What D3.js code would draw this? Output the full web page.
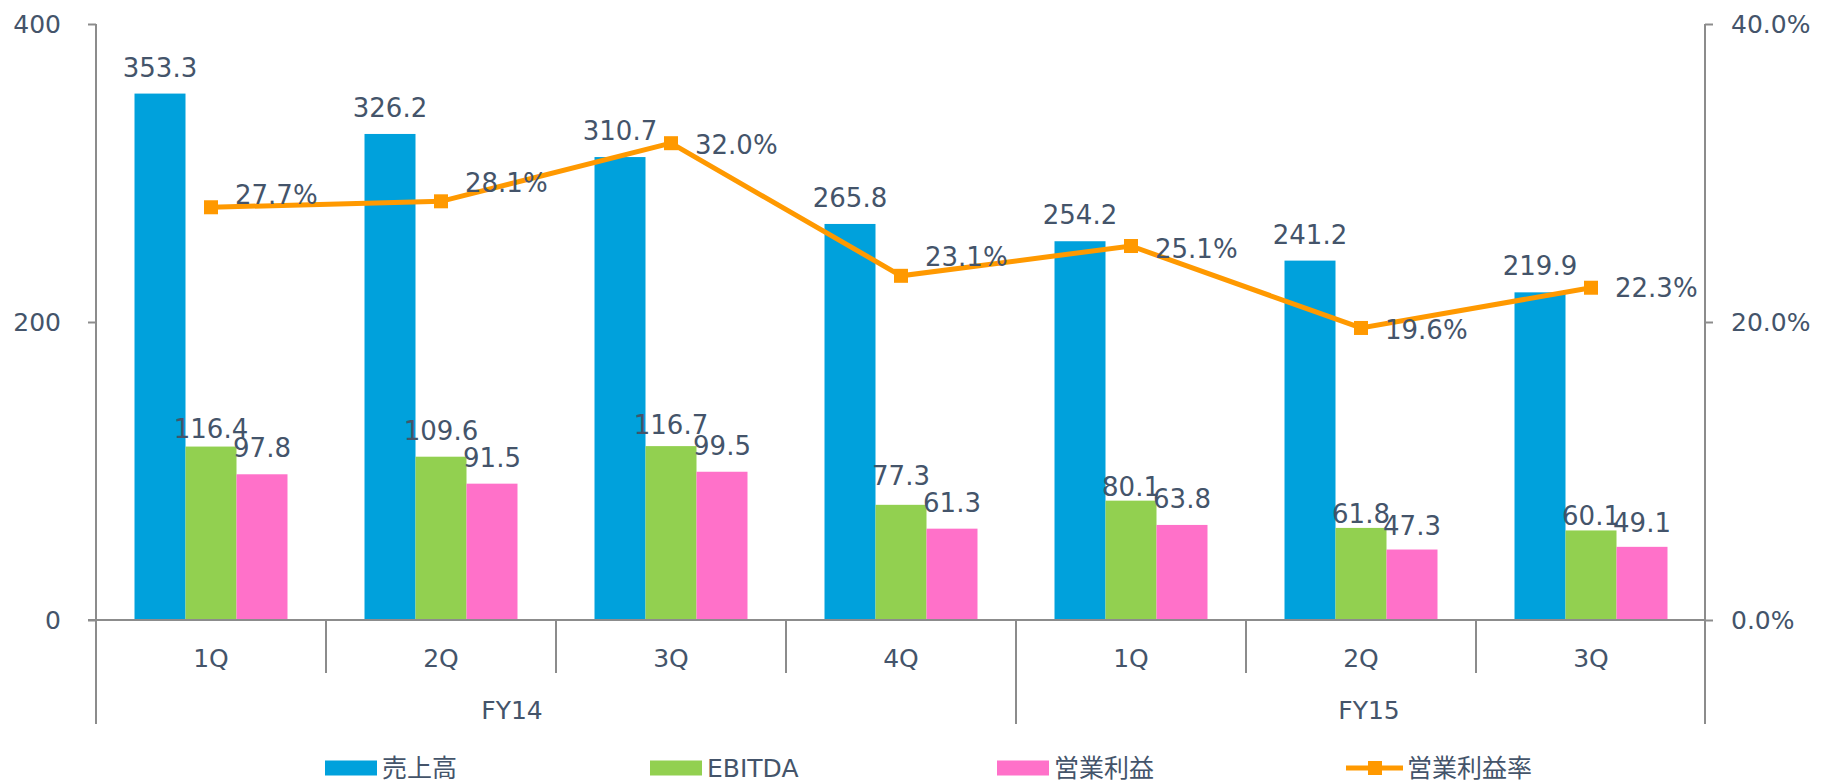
<!DOCTYPE html>
<html>
<head>
<meta charset="utf-8">
<script src="https://cdn.jsdelivr.net/npm/d3@7"></script>
<style>
  body { margin: 0; background: #fff; }
  svg text { font-family: "DejaVu Sans", "Noto Sans CJK JP", sans-serif; fill: #44546A; }
  .axis path { display: none; }
  .axis line { stroke: #8c8c8c; stroke-width: 2; }
</style>
</head>
<body>
<div id="chart"></div>
<script>
// quarters and fiscal years
var quarters = ["1Q", "2Q", "3Q", "4Q", "1Q", "2Q", "3Q"];
var fiscalYears = ["FY14", "FY15"];
var fyQuarterCount = [4, 3];

// series (億円 / %)
var seriesNames = ["売上高", "EBITDA", "営業利益", "営業利益率"];
var sales = [353.3, 326.2, 310.7, 265.8, 254.2, 241.2, 219.9];
var ebitda = [116.4, 109.6, 116.7, 77.3, 80.1, 61.8, 60.1];
var opIncome = [97.8, 91.5, 99.5, 61.3, 63.8, 47.3, 49.1];
var opMargin = [27.7, 28.1, 32.0, 23.1, 25.1, 19.6, 22.3];

// axis ticks
var leftTicks = [0, 200, 400];
var rightTicks = [0, 20, 40];

var colors = ["#00A1DC", "#92D050", "#FF71C9", "#FF9900"];

var width = 1824, height = 784;
var plotLeft = 96, plotRight = 1706, plotTop = 24, plotBottom = 620;

var svg = d3.select("#chart").append("svg")
    .attr("width", width)
    .attr("height", height);

var idx = quarters.map((d, i) => i);

var x0 = d3.scaleBand()
    .domain(idx)
    .range([plotLeft, plotRight])
    .padding(0);

var x1 = d3.scaleBand()
    .domain([0, 1, 2])
    .range([0, x0.bandwidth()])
    .paddingInner(0)
    .paddingOuter(0.755);

var yScale = d3.scaleLinear().domain([0, 400]).range([plotBottom, plotTop]);
var yRate = d3.scaleLinear().domain([0, 40]).range([plotBottom, plotTop]);

// left axis
svg.append("g")
    .attr("class", "axis")
    .attr("transform", `translate(${plotLeft},0)`)
    .call(d3.axisLeft(yScale).tickValues(leftTicks).tickSize(8).tickPadding(27).tickFormat(d3.format("d")))
    .selectAll("text")
        .style("font-size", "25px");

// right axis
svg.append("g")
    .attr("class", "axis")
    .attr("transform", `translate(${plotRight - 1},0)`)
    .call(d3.axisRight(yRate).tickValues(rightTicks).tickSize(8).tickPadding(18).tickFormat(d => d.toFixed(1) + "%"))
    .selectAll("text")
        .style("font-size", "25px");

// axis lines (run down through the category rows)
svg.append("line")
    .attr("x1", plotLeft).attr("x2", plotLeft)
    .attr("y1", plotTop).attr("y2", 724)
    .attr("stroke", "#8c8c8c").attr("stroke-width", 2);
svg.append("line")
    .attr("x1", plotRight - 1).attr("x2", plotRight - 1)
    .attr("y1", plotTop).attr("y2", 724)
    .attr("stroke", "#8c8c8c").attr("stroke-width", 2);

// bars
// some EBITDA labels sit lower in the original (moved by hand)
var labelNudge = [
  [0, 0, 0, 0, 0, 0, 0],
  [8, 0, 5, -3, 12, 12, 12],
  [0, 0, 0, 0, 0, 2, 2]
];
var barSeries = [sales, ebitda, opIncome];
barSeries.forEach(function(vals, s) {
  var g = svg.append("g");
  g.selectAll("rect")
    .data(vals)
    .enter()
    .append("rect")
    .attr("x", (d, i) => x0(i) + x1(s))
    .attr("y", d => yScale(d))
    .attr("width", x1.bandwidth())
    .attr("height", d => plotBottom - yScale(d))
    .attr("fill", colors[s]);
  g.selectAll("text")
    .data(vals)
    .enter()
    .append("text")
    .attr("x", (d, i) => x0(i) + x1(s) + x1.bandwidth() / 2)
    .attr("y", (d, i) => yScale(d) - 17 + labelNudge[s][i])
    .attr("text-anchor", "middle")
    .style("font-size", "26px")
    .text(d => d.toFixed(1));
});

// category axis: zero line, separators, labels
svg.append("line")
    .attr("x1", plotLeft - 8).attr("x2", plotRight)
    .attr("y1", plotBottom).attr("y2", plotBottom)
    .attr("stroke", "#8c8c8c").attr("stroke-width", 2);

var fyStarts = [0];
fyQuarterCount.forEach((n, i) => fyStarts.push(fyStarts[i] + n));

var bounds = idx.slice(1);
svg.append("g").selectAll("line")
    .data(bounds)
    .enter()
    .append("line")
    .attr("x1", d => x0(d)).attr("x2", d => x0(d))
    .attr("y1", plotBottom)
    .attr("y2", d => fyStarts.indexOf(d) >= 0 ? 724 : 673)
    .attr("stroke", "#8c8c8c").attr("stroke-width", 2);

svg.append("g").selectAll("text")
    .data(quarters)
    .enter()
    .append("text")
    .attr("x", (d, i) => x0(i) + x0.bandwidth() / 2)
    .attr("y", 658)
    .attr("dy", "0.35em")
    .attr("text-anchor", "middle")
    .style("font-size", "25px")
    .text(d => d);

var fyShift = [-44, 8];
svg.append("g").selectAll("text")
    .data(fiscalYears)
    .enter()
    .append("text")
    .attr("x", (d, i) => (x0(fyStarts[i]) + x0(fyStarts[i + 1] - 1) + x0.bandwidth()) / 2 + fyShift[i])
    .attr("y", 710)
    .attr("dy", "0.35em")
    .attr("text-anchor", "middle")
    .style("font-size", "25px")
    .text(d => d);

// operating margin line
var line = d3.line()
    .x((d, i) => x0(i) + x0.bandwidth() / 2)
    .y(d => yRate(d));

svg.append("path")
    .datum(opMargin)
    .attr("d", line)
    .attr("fill", "none")
    .attr("stroke", colors[3])
    .attr("stroke-width", 5);

svg.append("g").selectAll("rect")
    .data(opMargin)
    .enter()
    .append("rect")
    .attr("x", (d, i) => x0(i) + x0.bandwidth() / 2 - 7)
    .attr("y", d => yRate(d) - 7)
    .attr("width", 14)
    .attr("height", 14)
    .attr("fill", colors[3]);

// labels were nudged by hand in the original so they clear the line
var marginLabelDy = [-12, -18, 2, -19, 3, 2, 0];
svg.append("g").selectAll("text")
    .data(opMargin)
    .enter()
    .append("text")
    .attr("x", (d, i) => x0(i) + x0.bandwidth() / 2 + 24)
    .attr("y", (d, i) => yRate(d) + marginLabelDy[i])
    .attr("dy", "0.35em")
    .style("font-size", "26px")
    .text(d => d.toFixed(1) + "%");

// legend
var legendX = [325, 650, 997, 1346];
var legend = svg.append("g").selectAll("g")
    .data(seriesNames)
    .enter()
    .append("g")
    .attr("transform", (d, i) => `translate(${legendX[i]},768)`);

legend.filter((d, i) => i < 3)
    .append("rect")
    .attr("x", 0).attr("y", -7.5)
    .attr("width", 52).attr("height", 15)
    .attr("fill", (d, i) => colors[i]);

var lineKey = legend.filter((d, i) => i === 3);
lineKey.append("line")
    .attr("x1", 0).attr("x2", 57)
    .attr("y1", 0).attr("y2", 0)
    .attr("stroke", colors[3]).attr("stroke-width", 5);
lineKey.append("rect")
    .attr("x", 22).attr("y", -7)
    .attr("width", 14).attr("height", 14)
    .attr("fill", colors[3]);

legend.append("text")
    .attr("x", (d, i) => i === 3 ? 61 : 57)
    .attr("y", 0)
    .attr("dy", "0.35em")
    .style("font-size", "25px")
    .text(d => d);
</script>
</body>
</html>
